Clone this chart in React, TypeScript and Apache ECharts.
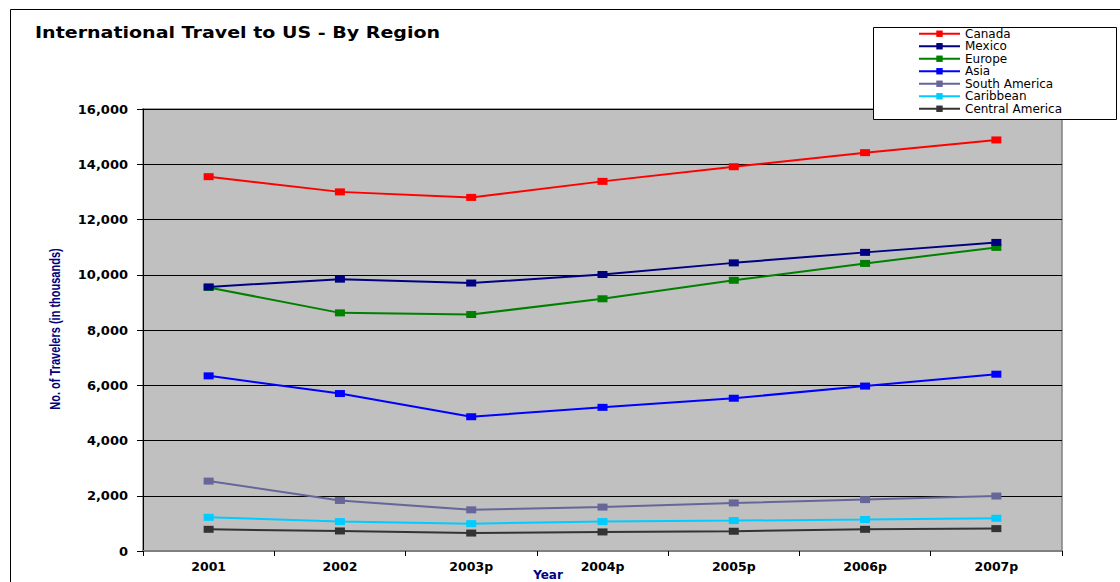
import React, { useEffect, useRef } from "react";
import * as echarts from "echarts";

const years = ["2001", "2002", "2003p", "2004p", "2005p", "2006p", "2007p"];
const canada = [13550, 13000, 12800, 13380, 13910, 14420, 14880];
const mexico = [9560, 9840, 9700, 10010, 10430, 10810, 11170];
const europe = [9540, 8620, 8560, 9130, 9800, 10410, 10990];
const asia = [6340, 5700, 4860, 5200, 5530, 5970, 6400];
const southAmerica = [2530, 1830, 1490, 1590, 1740, 1860, 1990];
const caribbean = [1220, 1065, 990, 1065, 1100, 1140, 1185];
const centralAmerica = [785, 725, 650, 690, 715, 785, 810];

const seriesNames = ["Canada", "Mexico", "Europe", "Asia", "South America", "Caribbean", "Central America"];
const seriesData = [canada, mexico, europe, asia, southAmerica, caribbean, centralAmerica];
const seriesColors = ["#FF0000", "#000080", "#008000", "#0000FF", "#666699", "#00CCFF", "#333333"];

const TITLE = "International Travel to US - By Region";
const Y_NAME = "No. of Travelers (in thousands)";
const X_NAME = "Year";

export default function App() {
  const ref = useRef<HTMLDivElement>(null);
  useEffect(() => {
    if (!ref.current) return;
    const chart = echarts.init(ref.current, undefined, { renderer: "svg" });
    const bold = "'DejaVu Sans', Arial, sans-serif";
    chart.setOption({
      animation: false,
      backgroundColor: "#FFFFFF",
      grid: {
        left: 143,
        top: 109,
        right: 58,
        bottom: 31,
        show: true,
        backgroundColor: "#C0C0C0",
        borderColor: "#808080",
        borderWidth: 1.5,
      },
      xAxis: {
        type: "category",
        data: years,
        boundaryGap: true,
        axisLine: { show: true, lineStyle: { color: "#808080", width: 2 } },
        axisTick: { show: true, length: 5, alignWithLabel: false, lineStyle: { color: "#000000" } },
        axisLabel: { color: "#000000", fontFamily: bold, fontWeight: "bold", fontSize: 12.5, margin: 9 },
        splitLine: { show: false },
      },
      yAxis: {
        type: "value",
        min: 0,
        max: 16000,
        interval: 2000,
        axisLine: { show: true, lineStyle: { color: "#000000", width: 1 } },
        axisTick: { show: true, length: 6, inside: false, lineStyle: { color: "#000000" } },
        axisLabel: {
          color: "#000000",
          fontFamily: bold,
          fontWeight: "bold",
          fontSize: 13,
          margin: 15,
          formatter: (v: number) => v.toLocaleString("en-US"),
        },
        splitLine: { show: true, lineStyle: { color: "#000000", width: 1 } },
      },
      legend: {
        orient: "vertical",
        left: 918,
        top: 27.5,
        padding: 0,
        itemGap: 0,
        itemWidth: 41,
        itemHeight: 8,
        data: seriesNames,
        textStyle: {
          fontFamily: "'DejaVu Sans', Arial, sans-serif",
          fontSize: 12,
          lineHeight: 12.5,
          color: "#000000",
        },
      },
      graphic: [
        {
          type: "rect",
          z: 0,
          silent: true,
          shape: { x: 10.5, y: 9.5, width: 1300, height: 800 },
          style: { fill: "none", stroke: "#000000", lineWidth: 1 },
        },
        {
          type: "rect",
          z: 3,
          silent: true,
          shape: { x: 873.5, y: 27.5, width: 243, height: 92 },
          style: { fill: "#FFFFFF", stroke: "#000000", lineWidth: 1 },
        },
        {
          type: "text",
          x: 35,
          y: 33,
          scaleX: 1.27,
          style: {
            text: TITLE,
            fontFamily: bold,
            fontWeight: "bold",
            fontSize: 15,
            fill: "#000000",
            verticalAlign: "middle",
            align: "left",
          },
        },
        {
          type: "text",
          x: 55,
          y: 329,
          rotation: Math.PI / 2,
          scaleX: 0.71,
          style: {
            text: Y_NAME,
            fontFamily: "'Liberation Sans', Arial, sans-serif",
            fontWeight: "bold",
            fontSize: 15.5,
            fill: "#000080",
            verticalAlign: "middle",
            align: "center",
          },
        },
        {
          type: "text",
          x: 548,
          y: 575,
          style: {
            text: X_NAME,
            fontFamily: bold,
            fontWeight: "bold",
            fontSize: 12,
            fill: "#000080",
            verticalAlign: "middle",
            align: "center",
          },
        },
      ],
      series: seriesNames.map((name, i) => ({
        name,
        type: "line",
        data: seriesData[i],
        symbol: "rect",
        symbolSize: [10, 7],
        lineStyle: { color: seriesColors[i], width: 2 },
        itemStyle: { color: seriesColors[i] },
        z: 10 - i,
      })),
    });
    return () => chart.dispose();
  }, []);
  return (
    <div
      ref={ref}
      style={{ position: "absolute", left: 0, top: 0, width: 1120, height: 582 }}
    />
  );
}
